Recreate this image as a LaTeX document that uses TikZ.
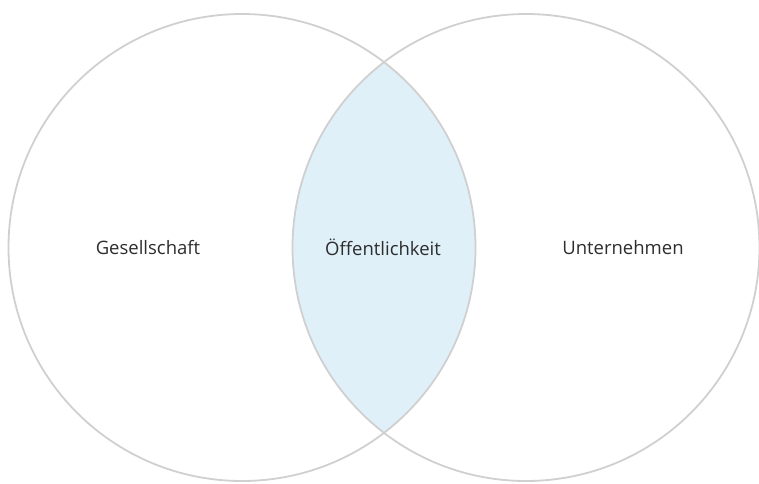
\documentclass[tikz,border=0pt]{standalone}
\usepackage{fontspec}
\setmainfont{Open Sans}
\usepackage{tikz}
\usetikzlibrary{positioning}

\definecolor{ringgray}{RGB}{208,208,208}
\definecolor{lensblue}{RGB}{223,240,249}
\definecolor{labeltext}{RGB}{45,45,45}

\begin{document}
\begin{tikzpicture}[
    x=1pt, y=-1pt,
    ring/.style={draw=ringgray, line width=1.8pt},
    label/.style={text=labeltext, font=\fontsize{18.5}{22}\selectfont}
]
\useasboundingbox (0,0) rectangle (759,483);

% Centers of the two sets
\coordinate (society) at (242,247.5);
\coordinate (company) at (526,247.5);

% Overlap
\begin{scope}
    \clip (society) circle (233.5);
    \fill[lensblue] (company) circle (233.5);
\end{scope}

% Circles
\draw[ring] (society) circle (233.5);
\draw[ring] (company) circle (233.5);

% Labels
\node[label] (gesellschaft) at (148,247.5) {Gesellschaft};
\node[label] (oeffentlichkeit) at (383,247.5) {Öffentlichkeit};
\node[label] (unternehmen) at (623,247.5) {Unternehmen};

\end{tikzpicture}
\end{document}
